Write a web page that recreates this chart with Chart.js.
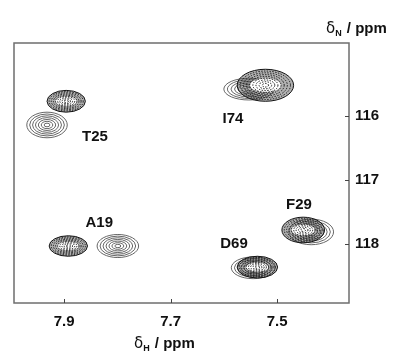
<!DOCTYPE html>
<html lang="en">
<head>
    <meta charset="UTF-8">
    <title>HSQC overlay</title>
    <script src="https://cdn.jsdelivr.net/npm/chart.js"></script>
    <style>
        body { margin: 0; background: #fff; }
        #wrap { width: 403px; height: 354px; }
    </style>
</head>
<body>
<div id="wrap"><canvas id="hsqc"></canvas></div>

<script>
    // peak data (ppm) - dark dashed contours and gray solid contours
    const peakNames = ['I74', 'T25', 'A19', 'F29', 'D69'];
    const darkH = [7.522, 7.896, 7.892, 7.451, 7.537];
    const darkN = [115.52, 115.77, 118.03, 117.78, 118.36];
    const darkWH = [0.053, 0.036, 0.036, 0.040, 0.038];   // half widths
    const darkWN = [0.25, 0.17, 0.16, 0.20, 0.17];
    const grayH = [7.553, 7.932, 7.799, 7.436, 7.545];
    const grayN = [115.58, 116.14, 118.03, 117.81, 118.37];
    const grayWH = [0.047, 0.038, 0.039, 0.042, 0.041];
    const grayWN = [0.17, 0.2, 0.18, 0.20, 0.17];
    const labelH = [7.583, 7.842, 7.834, 7.459, 7.581];
    const labelN = [116.05, 116.33, 117.67, 117.39, 118.0];

    const xTicks = [7.9, 7.7, 7.5];
    const yTicks = [116, 117, 118];

    const FONT = '"Liberation Sans", Arial, sans-serif';

    function pts(H, N, WH, WN) {
        return H.map((h, i) => ({ x: h, y: N[i], wx: WH[i], wy: WN[i] }));
    }

    // draws concentric contour rings for every point of the two datasets
    const contours = {
        id: 'contours',
        afterDatasetsDraw(chart) {
            const { ctx, chartArea, scales: { x, y } } = chart;
            ctx.save();
            ctx.beginPath();
            ctx.rect(chartArea.left, chartArea.top, chartArea.right - chartArea.left, chartArea.bottom - chartArea.top);
            ctx.clip();
            chart.data.datasets.forEach(ds => {
                const dark = ds.label === 'dark';
                ds.data.forEach(p => {
                    const cx = x.getPixelForValue(p.x);
                    const cy = y.getPixelForValue(p.y);
                    const rx = Math.abs(x.getPixelForValue(p.x + p.wx) - cx);
                    const ry = Math.abs(y.getPixelForValue(p.y + p.wy) - cy);
                    const n = dark ? 9 : 7;
                    if (dark) {
                        ctx.fillStyle = 'rgba(60,60,60,0.4)';
                        ctx.beginPath();
                        ctx.ellipse(cx, cy, rx, ry, 0, 0, Math.PI * 2);
                        ctx.fill();
                        ctx.fillStyle = '#fff';
                        ctx.beginPath();
                        ctx.ellipse(cx, cy, rx * 0.55, ry * 0.42, 0, 0, Math.PI * 2);
                        ctx.fill();
                    }
                    for (let k = 1; k <= n; k++) {
                        const f = k / n;
                        ctx.beginPath();
                        ctx.ellipse(cx, cy, rx * f, ry * f, 0, 0, Math.PI * 2);
                        if (dark) {
                            ctx.strokeStyle = '#111';
                            ctx.lineWidth = 1;
                            ctx.setLineDash(k === n ? [] : [1.4, 1.4]);
                        } else {
                            ctx.strokeStyle = '#666';
                            ctx.lineWidth = 1;
                            ctx.setLineDash([]);
                        }
                        ctx.stroke();
                    }
                    ctx.setLineDash([]);
                });
            });
            ctx.restore();

            // frame, inward ticks, peak labels, axis titles
            ctx.save();
            ctx.strokeStyle = '#6e6e6e';
            ctx.lineWidth = 1.5;
            ctx.strokeRect(chartArea.left, chartArea.top, chartArea.right - chartArea.left, chartArea.bottom - chartArea.top);
            ctx.lineWidth = 1;
            ctx.strokeStyle = '#444';
            xTicks.forEach(t => {
                const px = Math.round(x.getPixelForValue(t)) + 0.5;
                ctx.beginPath();
                ctx.moveTo(px, chartArea.bottom);
                ctx.lineTo(px, chartArea.bottom - 4);
                ctx.stroke();
            });
            yTicks.forEach(t => {
                const py = Math.round(y.getPixelForValue(t)) + 0.5;
                ctx.beginPath();
                ctx.moveTo(chartArea.right, py);
                ctx.lineTo(chartArea.right - 4, py);
                ctx.stroke();
            });

            ctx.fillStyle = '#111';
            ctx.font = 'bold 15px ' + FONT;
            ctx.textAlign = 'center';
            ctx.textBaseline = 'middle';
            peakNames.forEach((name, i) => {
                ctx.fillText(name, x.getPixelForValue(labelH[i]), y.getPixelForValue(labelN[i]));
            });

            // axis titles with subscripts
            const title = (sym, sub, rest, left, base) => {
                ctx.textAlign = 'left';
                ctx.textBaseline = 'alphabetic';
                ctx.font = '15px "DejaVu Sans", ' + FONT;
                ctx.fillText(sym, left, base);
                let w = ctx.measureText(sym).width;
                ctx.font = 'bold 9px ' + FONT;
                ctx.fillText(sub, left + w, base + 3);
                w += ctx.measureText(sub).width + 1;
                ctx.font = 'bold 15px ' + FONT;
                ctx.fillText(rest, left + w, base);
            };
            title('δ', 'N', ' / ppm', 326, 33);
            title('δ', 'H', ' / ppm', 134, 348);
            ctx.restore();
        }
    };

    const ctx = document.getElementById('hsqc').getContext('2d');
    const hsqcChart = new Chart(ctx, {
        type: 'scatter',
        data: {
            datasets: [
                { label: 'gray', data: pts(grayH, grayN, grayWH, grayWN), pointRadius: 0 },
                { label: 'dark', data: pts(darkH, darkN, darkWH, darkWN), pointRadius: 0 }
            ]
        },
        options: {
            responsive: true,
            maintainAspectRatio: false,
            animation: false,
            events: [],
            layout: { padding: { left: 14, top: 43, right: 0, bottom: 0 } },
            plugins: { legend: { display: false }, tooltip: { enabled: false } },
            scales: {
                x: {
                    type: 'linear',
                    reverse: true,
                    min: 7.365,
                    max: 7.994,
                    afterBuildTicks: s => { s.ticks = xTicks.map(v => ({ value: v })); },
                    afterFit: s => { s.height = 51; },
                    grid: { display: false, drawTicks: false },
                    border: { display: false },
                    ticks: {
                        padding: 10,
                        color: '#111',
                        font: { family: FONT, size: 15, weight: 'bold' },
                        callback: v => v.toFixed(1)
                    }
                },
                y: {
                    type: 'linear',
                    position: 'right',
                    reverse: true,
                    min: 114.86,
                    max: 118.92,
                    afterBuildTicks: s => { s.ticks = yTicks.map(v => ({ value: v })); },
                    afterFit: s => { s.width = 54; },
                    grid: { display: false, drawTicks: false },
                    border: { display: false },
                    ticks: {
                        padding: 6,
                        color: '#111',
                        font: { family: FONT, size: 15, weight: 'bold' },
                        callback: v => String(v)
                    }
                }
            }
        },
        plugins: [contours]
    });
</script>
</body>
</html>
